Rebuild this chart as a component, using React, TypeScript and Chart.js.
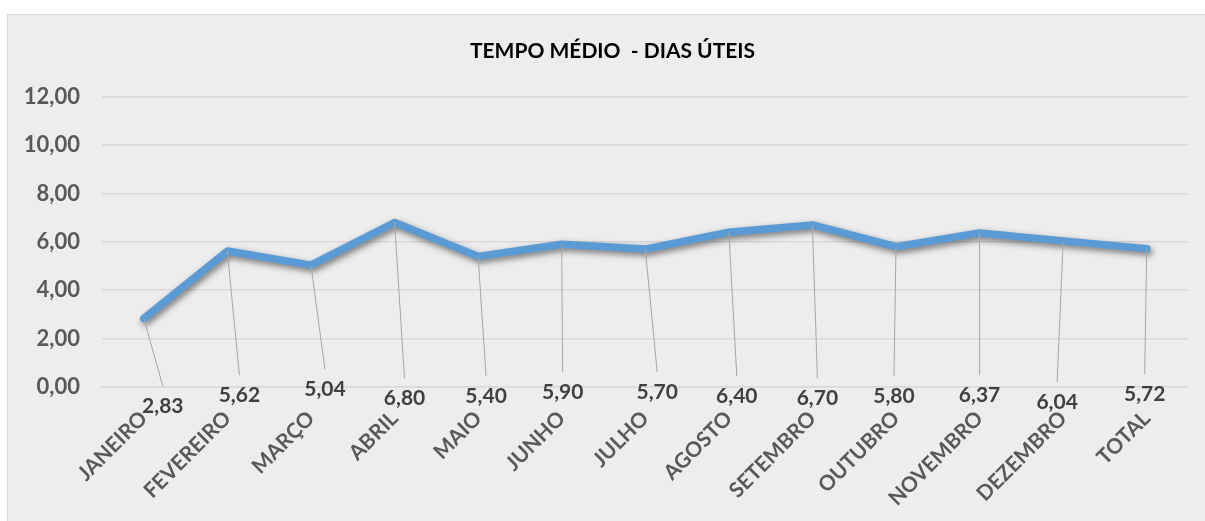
import React, { useEffect, useRef } from "react";
import { Chart, registerables } from "chart.js";

Chart.register(...registerables);

const TITLE = "TEMPO MÉDIO  - DIAS ÚTEIS";
const categories = [
  "JANEIRO", "FEVEREIRO", "MARÇO", "ABRIL", "MAIO", "JUNHO", "JULHO",
  "AGOSTO", "SETEMBRO", "OUTUBRO", "NOVEMBRO", "DEZEMBRO", "TOTAL",
];
const values = [2.83, 5.62, 5.04, 6.8, 5.4, 5.9, 5.7, 6.4, 6.7, 5.8, 6.37, 6.04, 5.72];
const yTicks = [0, 2, 4, 6, 8, 10, 12];

// layout of the data-label callouts (pixel offsets, not data)
const labelDx = [19, 12, 14, 10, 8, 1, 12, 8, 5, -2, 0, -6, -2];
const labelDy = [19.4, 8.7, 2.7, 11.7, 9.7, 5.7, 5.7, 9.7, 11.7, 9.7, 8.7, 15.7, 7.7];

const fmt = (v: number) => v.toFixed(2).replace(".", ",");
const FONT = "Lato, 'Open Sans', sans-serif";

const titlePlugin = {
  id: "excelTitle",
  afterDraw(chart: any) {
    const ctx = chart.ctx;
    ctx.save();
    ctx.fillStyle = "#000000";
    ctx.font = `bold 21px ${FONT}`;
    ctx.textAlign = "center";
    ctx.textBaseline = "middle";
    ctx.fillText(TITLE, 604.5, 36);
    ctx.restore();
  },
};

const shadowPlugin = {
  id: "lineShadow",
  beforeDatasetsDraw(chart: any) {
    const ctx = chart.ctx;
    ctx.save();
    ctx.shadowColor = "rgba(0,0,0,0.5)";
    ctx.shadowBlur = 6;
    ctx.shadowOffsetX = 2;
    ctx.shadowOffsetY = 3;
  },
  afterDatasetsDraw(chart: any) {
    chart.ctx.restore();
  },
};

const calloutPlugin = {
  id: "callouts",
  afterDraw(chart: any) {
    const ctx = chart.ctx;
    const meta = chart.getDatasetMeta(0);
    const zeroY = chart.scales.y.getPixelForValue(0);
    ctx.save();
    meta.data.forEach((pt: any, i: number) => {
      const lx = pt.x + labelDx[i];
      const ly = zeroY + labelDy[i];
      ctx.strokeStyle = "#A6A6A6";
      ctx.lineWidth = 1;
      ctx.beginPath();
      ctx.moveTo(pt.x, pt.y);
      ctx.lineTo(lx, ly - 20.5);
      ctx.stroke();
      ctx.fillStyle = "#404040";
      ctx.font = `bold 21px ${FONT}`;
      ctx.textAlign = "center";
      ctx.textBaseline = "middle";
      ctx.fillText(fmt(values[i]), lx, ly);
    });
    ctx.restore();
  },
};

export default function App() {
  const ref = useRef<HTMLCanvasElement>(null);
  useEffect(() => {
    if (!ref.current) return;
    const chart = new Chart(ref.current, {
      type: "line",
      data: {
        labels: categories,
        datasets: [
          {
            data: values,
            borderColor: "#5B9BD5",
            borderWidth: 7.5,
            borderCapStyle: "round",
            borderJoinStyle: "round",
            pointRadius: 0,
            pointHoverRadius: 0,
            tension: 0,
            fill: false,
          },
        ],
      },
      options: {
        animation: false,
        responsive: false,
        events: [],
        layout: { padding: { left: 0, right: 8.5, top: 81.7, bottom: 0 } },
        plugins: {
          legend: { display: false },
          tooltip: { enabled: false },
          title: { display: false },
        },
        scales: {
          x: {
            offset: true,
            grid: { display: false, drawTicks: false },
            border: { display: true, color: "#D9D9D9", width: 1.5 },
            afterFit(scale: any) {
              scale.height = 125;
            },
            ticks: {
              autoSkip: false,
              maxRotation: 45,
              minRotation: 45,
              padding: 19,
              color: "#595959",
              font: { family: FONT, size: 21, weight: "bold" },
            },
          },
          y: {
            min: 0,
            max: 12,
            afterBuildTicks(scale: any) {
              scale.ticks = yTicks.map((v) => ({ value: v }));
            },
            afterFit(scale: any) {
              scale.width = 94;
            },
            grid: { color: "#D9D9D9", lineWidth: 1.5, drawTicks: false },
            border: { display: false },
            ticks: {
              padding: 22,
              color: "#595959",
              font: { family: FONT, size: 22, weight: "bold" },
              callback: (v: any) => fmt(Number(v)),
            },
          },
        },
      },
      plugins: [shadowPlugin, calloutPlugin, titlePlugin],
    });
    return () => chart.destroy();
  }, []);

  return (
    <div
      style={{
        position: "absolute",
        left: 7,
        top: 14,
        width: 1205,
        height: 520,
        border: "1px solid #D9D9D9",
        background: "#EDEDED",
      }}
    >
      <canvas ref={ref} width={1189} height={497} style={{ display: "block" }} />
    </div>
  );
}
